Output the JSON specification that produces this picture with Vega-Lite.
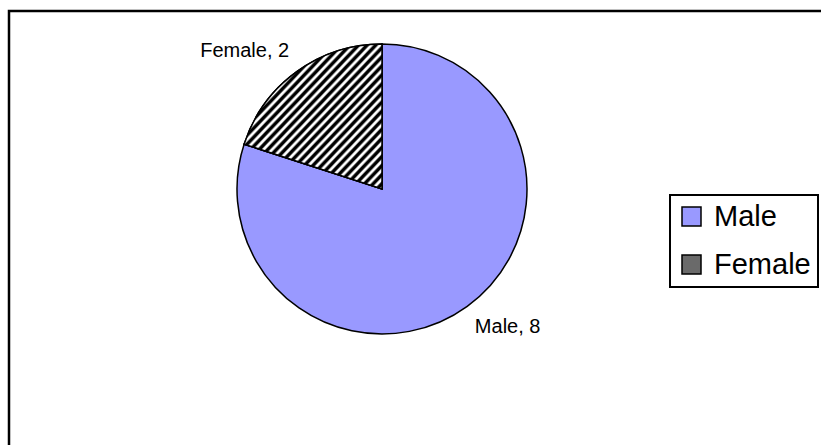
{
  "$schema": "https://vega.github.io/schema/vega-lite/v6.json",
  "autosize": {"type": "none"},
  "padding": {"left": 9, "top": 11, "right": 0, "bottom": 0},
  "width": 830,
  "height": 450,
  "background": "white",
  "config": {
    "view": {"stroke": null},
    "font": "Liberation Sans",
    "legend": {"strokeWidth": 2}
  },
  "data": {"values": [
    {"sex": "Male", "count": 8},
    {"sex": "Female", "count": 2}
  ]},
  "layer": [
    {
      "data": {"values": [{}]},
      "mark": {"type": "rect", "filled": false, "stroke": "black", "strokeWidth": 2.5},
      "encoding": {}
    },
    {
      "mark": {"type": "arc", "outerRadius": 145, "x": 373, "y": 178, "stroke": "black", "strokeWidth": 1.5},
      "encoding": {
        "theta": {"field": "count", "type": "quantitative", "stack": true},
        "order": {"field": "sex", "type": "nominal", "sort": "descending"},
        "color": {
          "field": "sex",
          "type": "nominal",
          "scale": {"domain": ["Male", "Female"], "range": ["#9999FF", "#6a6a6a"]},
          "legend": {
            "title": null,
            "orient": "none",
            "legendX": 661,
            "legendY": 184,
            "padding": 7,
            "strokeColor": "black",
            "fillColor": "white",
            "symbolType": "square",
            "symbolSize": 361,
            "symbolStrokeColor": "black",
            "symbolStrokeWidth": 1.5,
            "symbolOpacity": 1,
            "labelFont": "Liberation Sans",
            "labelFontSize": 29,
            "labelColor": "black",
            "labelOffset": 8,
            "labelLimit": 0,
            "labelExpr": "datum.label + '      '",
            "rowPadding": 18
          }
        }
      }
    },
    {
      "mark": {
        "type": "arc", "outerRadius": 145, "x": 373, "y": 178, "stroke": "black", "strokeWidth": 1.5,
        "fill": {"gradient": "linear", "x1": 0, "y1": 0, "x2": 1, "y2": 1, "stops": [
          {"offset": 0.0, "color": "white"}, {"offset": 0.0078, "color": "black"}, {"offset": 0.0172, "color": "black"}, {"offset": 0.025, "color": "white"},
          {"offset": 0.03125, "color": "white"}, {"offset": 0.0391, "color": "black"}, {"offset": 0.0485, "color": "black"}, {"offset": 0.0563, "color": "white"},
          {"offset": 0.0625, "color": "white"}, {"offset": 0.0703, "color": "black"}, {"offset": 0.0797, "color": "black"}, {"offset": 0.0875, "color": "white"},
          {"offset": 0.09375, "color": "white"}, {"offset": 0.1016, "color": "black"}, {"offset": 0.111, "color": "black"}, {"offset": 0.1188, "color": "white"},
          {"offset": 0.125, "color": "white"}, {"offset": 0.1328, "color": "black"}, {"offset": 0.1422, "color": "black"}, {"offset": 0.15, "color": "white"},
          {"offset": 0.15625, "color": "white"}, {"offset": 0.1641, "color": "black"}, {"offset": 0.1735, "color": "black"}, {"offset": 0.1813, "color": "white"},
          {"offset": 0.1875, "color": "white"}, {"offset": 0.1953, "color": "black"}, {"offset": 0.2047, "color": "black"}, {"offset": 0.2125, "color": "white"},
          {"offset": 0.21875, "color": "white"}, {"offset": 0.2266, "color": "black"}, {"offset": 0.236, "color": "black"}, {"offset": 0.2438, "color": "white"},
          {"offset": 0.25, "color": "white"}, {"offset": 0.2578, "color": "black"}, {"offset": 0.2672, "color": "black"}, {"offset": 0.275, "color": "white"},
          {"offset": 0.28125, "color": "white"}, {"offset": 0.2891, "color": "black"}, {"offset": 0.2985, "color": "black"}, {"offset": 0.3063, "color": "white"},
          {"offset": 0.3125, "color": "white"}, {"offset": 0.3203, "color": "black"}, {"offset": 0.3297, "color": "black"}, {"offset": 0.3375, "color": "white"},
          {"offset": 0.34375, "color": "white"}, {"offset": 0.3516, "color": "black"}, {"offset": 0.361, "color": "black"}, {"offset": 0.3688, "color": "white"},
          {"offset": 0.375, "color": "white"}, {"offset": 0.3828, "color": "black"}, {"offset": 0.3922, "color": "black"}, {"offset": 0.4, "color": "white"},
          {"offset": 0.40625, "color": "white"}, {"offset": 0.4141, "color": "black"}, {"offset": 0.4235, "color": "black"}, {"offset": 0.4313, "color": "white"},
          {"offset": 0.4375, "color": "white"}, {"offset": 0.4453, "color": "black"}, {"offset": 0.4547, "color": "black"}, {"offset": 0.4625, "color": "white"},
          {"offset": 0.46875, "color": "white"}, {"offset": 0.4766, "color": "black"}, {"offset": 0.486, "color": "black"}, {"offset": 0.4938, "color": "white"},
          {"offset": 0.5, "color": "white"}, {"offset": 0.5078, "color": "black"}, {"offset": 0.5172, "color": "black"}, {"offset": 0.525, "color": "white"},
          {"offset": 0.53125, "color": "white"}, {"offset": 0.5391, "color": "black"}, {"offset": 0.5485, "color": "black"}, {"offset": 0.5563, "color": "white"},
          {"offset": 0.5625, "color": "white"}, {"offset": 0.5703, "color": "black"}, {"offset": 0.5797, "color": "black"}, {"offset": 0.5875, "color": "white"},
          {"offset": 0.59375, "color": "white"}, {"offset": 0.6016, "color": "black"}, {"offset": 0.611, "color": "black"}, {"offset": 0.6188, "color": "white"},
          {"offset": 0.625, "color": "white"}, {"offset": 0.6328, "color": "black"}, {"offset": 0.6422, "color": "black"}, {"offset": 0.65, "color": "white"},
          {"offset": 0.65625, "color": "white"}, {"offset": 0.6641, "color": "black"}, {"offset": 0.6735, "color": "black"}, {"offset": 0.6813, "color": "white"},
          {"offset": 0.6875, "color": "white"}, {"offset": 0.6953, "color": "black"}, {"offset": 0.7047, "color": "black"}, {"offset": 0.7125, "color": "white"},
          {"offset": 0.71875, "color": "white"}, {"offset": 0.7266, "color": "black"}, {"offset": 0.736, "color": "black"}, {"offset": 0.7438, "color": "white"},
          {"offset": 0.75, "color": "white"}, {"offset": 0.7578, "color": "black"}, {"offset": 0.7672, "color": "black"}, {"offset": 0.775, "color": "white"},
          {"offset": 0.78125, "color": "white"}, {"offset": 0.7891, "color": "black"}, {"offset": 0.7985, "color": "black"}, {"offset": 0.8063, "color": "white"},
          {"offset": 0.8125, "color": "white"}, {"offset": 0.8203, "color": "black"}, {"offset": 0.8297, "color": "black"}, {"offset": 0.8375, "color": "white"},
          {"offset": 0.84375, "color": "white"}, {"offset": 0.8516, "color": "black"}, {"offset": 0.861, "color": "black"}, {"offset": 0.8688, "color": "white"},
          {"offset": 0.875, "color": "white"}, {"offset": 0.8828, "color": "black"}, {"offset": 0.8922, "color": "black"}, {"offset": 0.9, "color": "white"},
          {"offset": 0.90625, "color": "white"}, {"offset": 0.9141, "color": "black"}, {"offset": 0.9235, "color": "black"}, {"offset": 0.9313, "color": "white"},
          {"offset": 0.9375, "color": "white"}, {"offset": 0.9453, "color": "black"}, {"offset": 0.9547, "color": "black"}, {"offset": 0.9625, "color": "white"},
          {"offset": 0.96875, "color": "white"}, {"offset": 0.9766, "color": "black"}, {"offset": 0.986, "color": "black"}, {"offset": 0.9938, "color": "white"},
          {"offset": 1, "color": "white"}
        ]}
      },
      "encoding": {
        "theta": {"field": "count", "type": "quantitative", "stack": true},
        "order": {"field": "sex", "type": "nominal", "sort": "descending"},
        "opacity": {
          "condition": {"test": "datum.sex === 'Female'", "value": 1},
          "value": 0
        }
      }
    },
    {
      "mark": {
        "type": "text",
        "radius": 158,
        "x": 373,
        "y": 178,
        "fontSize": 20,
        "font": "Liberation Sans",
        "color": "black",
        "align": {"expr": "datum.sex === 'Female' ? 'right' : 'left'"},
        "baseline": {"expr": "datum.sex === 'Female' ? 'bottom' : 'top'"}
      },
      "encoding": {
        "theta": {"field": "count", "type": "quantitative", "stack": true},
        "order": {"field": "sex", "type": "nominal", "sort": "descending"},
        "text": {"field": "label", "type": "nominal"}
      },
      "transform": [{"calculate": "datum.sex + ', ' + datum.count", "as": "label"}]
    }
  ]
}
